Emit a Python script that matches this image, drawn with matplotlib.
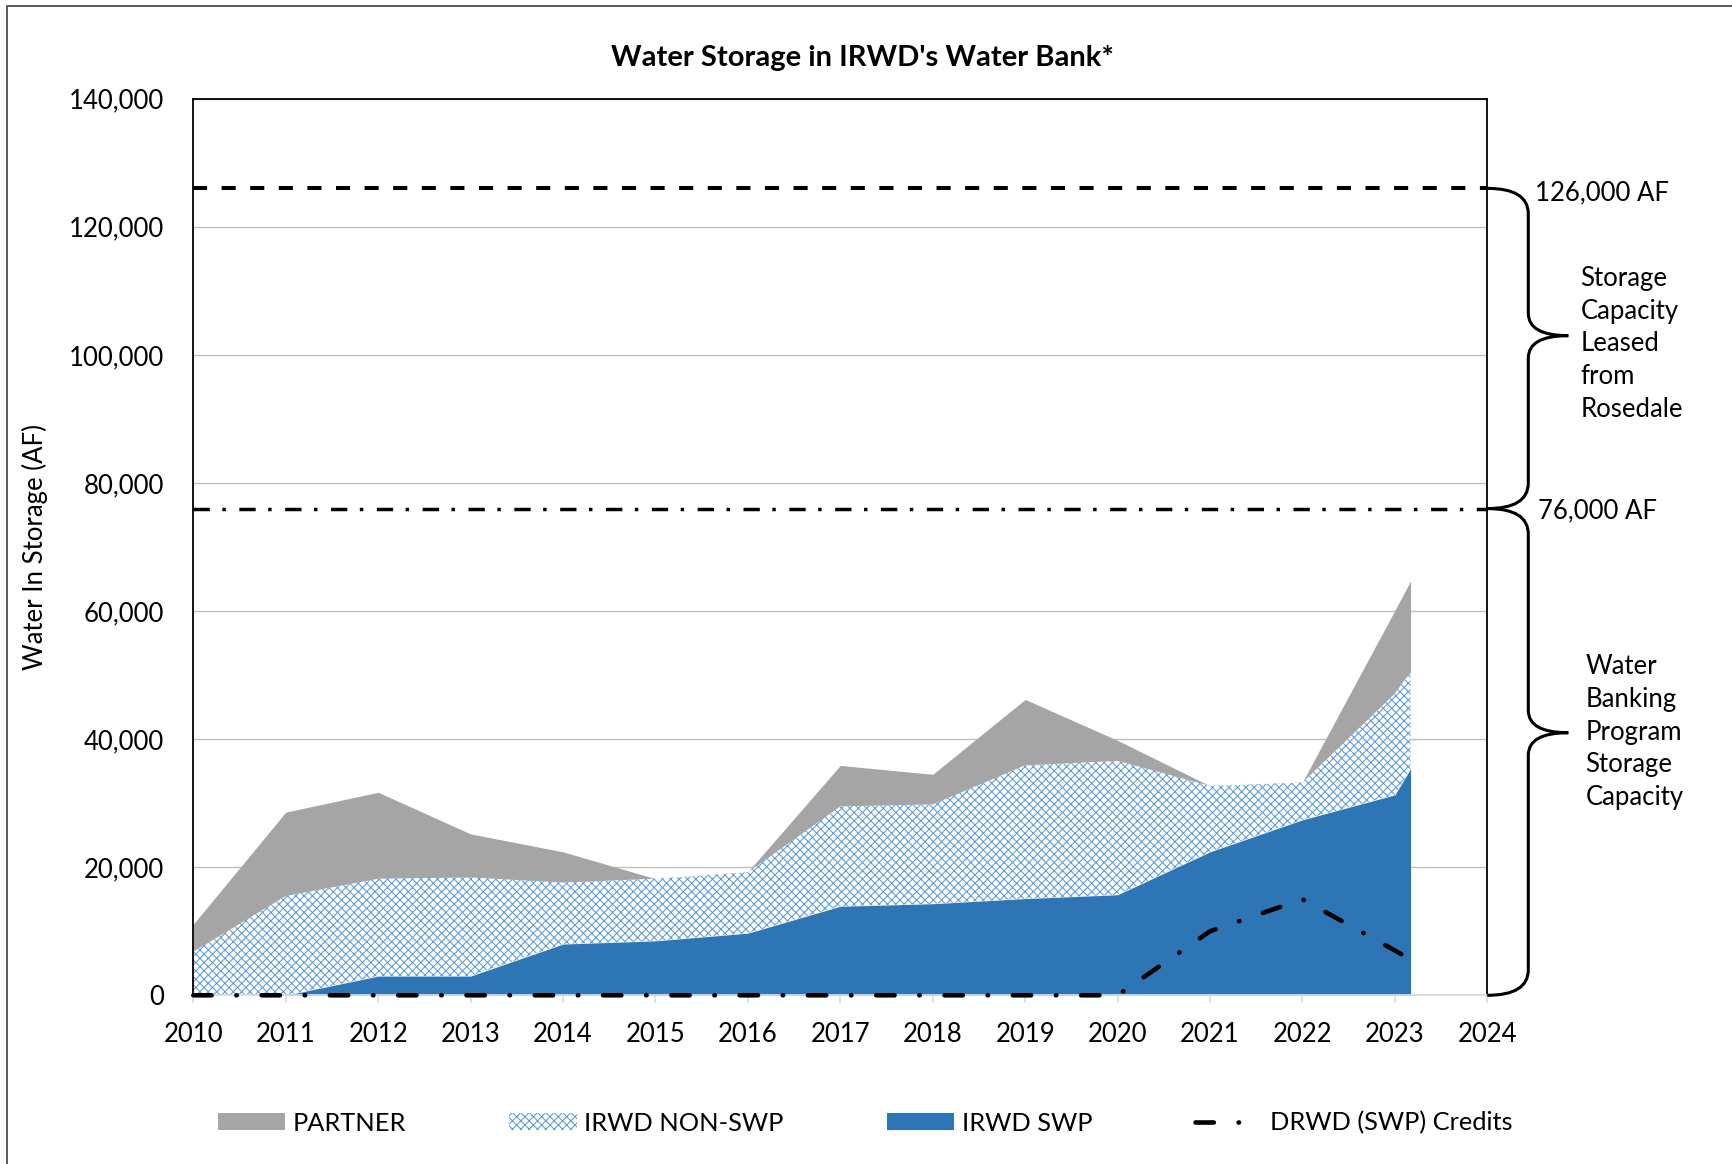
import matplotlib
matplotlib.use("Agg")
import matplotlib.pyplot as plt
import matplotlib.transforms as mtransforms
from matplotlib.path import Path
from matplotlib.patches import PathPatch
from matplotlib.lines import Line2D
from matplotlib.ticker import FuncFormatter
import numpy as np

plt.rcParams['font.family'] = ['Lato', 'DejaVu Sans']
plt.rcParams['hatch.linewidth'] = 0.75

# ---------------- data ----------------
dates = [2010, 2011, 2012, 2013, 2014, 2015, 2016, 2017, 2018, 2019, 2020,
         2021, 2022, 2023, 2023.17]
irwd_swp = [0, 0, 3000, 3000, 8000, 8500, 9700, 13900, 14300, 15100, 15700,
            22400, 27400, 31300, 35400]
irwd_non_swp = [6800, 15500, 15200, 15400, 9600, 9700, 9500, 15600, 15500,
                20800, 20900, 10300, 5800, 15800, 15100]
partner = [4300, 13100, 13500, 6800, 4800, 0, 100, 6400, 4700, 10300, 3200,
           0, 100, 13000, 14200]
drwd_credits = [0, 0, 0, 0, 0, 0, 0, 0, 0, 0, 0, 10000, 15000, 7000, 5600]

x_ticks = list(range(2010, 2025))
y_ticks = [0, 20000, 40000, 60000, 80000, 100000, 120000, 140000]
leased_capacity = 126000
program_capacity = 76000

title = "Water Storage in IRWD's Water Bank*"
ylabel = "Water In Storage (AF)"
legend_labels = ["PARTNER", "IRWD NON-SWP", "IRWD SWP", "DRWD (SWP) Credits"]
cap_labels = ["126,000 AF", "76,000 AF"]
brace_texts = ["Storage\nCapacity\nLeased\nfrom\nRosedale",
               "Water\nBanking\nProgram\nStorage\nCapacity"]

# ---------------- styles ----------------
c_swp = "#2E75B6"
c_hatch = "#5B9BD5"
c_partner = "#A5A5A5"
W, H = 1732, 1164

fig = plt.figure(figsize=(W / 100, H / 100), dpi=100)
ax = fig.add_axes([193.3 / W, 1 - 995.3 / H, (1487.3 - 193.3) / W, (995.3 - 98.7) / H])

x = np.array(dates, dtype=float)
swp = np.array(irwd_swp, dtype=float)
non = np.array(irwd_non_swp, dtype=float)
par = np.array(partner, dtype=float)

h_par = ax.fill_between(x, swp + non, swp + non + par, facecolor=c_partner,
                        edgecolor=c_partner, linewidth=0, zorder=2)
h_non = ax.fill_between(x, swp, swp + non, facecolor="white", edgecolor=c_hatch,
                        hatch="xxxx", linewidth=0, zorder=2)
h_swp = ax.fill_between(x, 0, swp, facecolor=c_swp, edgecolor=c_swp,
                        linewidth=0, zorder=3)
h_drwd, = ax.plot(x, drwd_credits, color="black", linewidth=3.3,
                  dashes=(4.0, 5.4, 0.1, 5.4), dash_capstyle="round",
                  solid_capstyle="round", zorder=5, clip_on=False)

ax.axhline(leased_capacity, color="black", linewidth=2.9,
           dashes=(3.5, 3.6), zorder=6, clip_on=False)
ax.axhline(program_capacity, color="black", linewidth=2.5,
           dashes=(4.7, 3.6, 1.0, 3.9), zorder=6, clip_on=False)

ax.set_xlim(2010, 2024)
ax.set_ylim(0, 140000)
ax.set_xticks(x_ticks)
ax.set_xticklabels([str(t) for t in x_ticks])
ax.set_yticks(y_ticks)
ax.yaxis.set_major_formatter(FuncFormatter(lambda v, p: f"{int(v):,}"))
ax.grid(axis="y", color="#BFBFBF", linewidth=1.0, zorder=0)
ax.set_axisbelow(True)
ax.tick_params(axis="x", length=6, width=1.2, color="#D9D9D9", labelsize=18.5,
               pad=13, direction="out")
ax.tick_params(axis="y", length=0, labelsize=18.5, pad=21)
for s in ["left", "top", "right"]:
    ax.spines[s].set_color("black")
    ax.spines[s].set_linewidth(1.3)
ax.spines["bottom"].set_color("#D9D9D9")
ax.spines["bottom"].set_linewidth(1.3)
for s in ax.spines.values():
    s.set_zorder(4)

# title and y label
fig.text(862 / W, 1 - 58 / H, title, ha="center", va="center",
         fontsize=21, fontweight="bold")
fig.text(35 / W, 1 - 547 / H, ylabel, ha="center", va="center",
         rotation=90, fontsize=18.5)

# braces
trans = mtransforms.blended_transform_factory(ax.transAxes, ax.transData)
xs = 1 + 41 / 1294
xt = 1 + 81 / 1294


def brace(ytop, ybot, ytip, r_end=4000, r_tip=3500):
    verts = [(1.0, ytop), (xs, ytop), (xs, ytop - r_end),
             (xs, ytip + r_tip),
             (xs, ytip), (xt, ytip),
             (xs, ytip), (xs, ytip - r_tip),
             (xs, ybot + r_end),
             (xs, ybot), (1.0, ybot)]
    codes = [Path.MOVETO, Path.CURVE3, Path.CURVE3,
             Path.LINETO,
             Path.CURVE3, Path.CURVE3,
             Path.CURVE3, Path.CURVE3,
             Path.LINETO,
             Path.CURVE3, Path.CURVE3]
    patch = PathPatch(Path(verts, codes), facecolor="none", edgecolor="black",
                      linewidth=2.2, transform=trans, clip_on=False, zorder=8)
    ax.add_patch(patch)


brace(leased_capacity, program_capacity, 103000)
brace(program_capacity, 0, 41000)

ax.text(1 + 48 / 1294, 125300, cap_labels[0], transform=trans, ha="left",
        va="center", fontsize=18.5)
ax.text(1 + 51 / 1294, 75700, cap_labels[1], transform=trans, ha="left",
        va="center", fontsize=18.5)
ax.text(1 + 93 / 1294, 101700, brace_texts[0], transform=trans, ha="left",
        va="center", fontsize=18.5, linespacing=1.38)
ax.text(1 + 98 / 1294, 41100, brace_texts[1], transform=trans, ha="left",
        va="center", fontsize=18.5, linespacing=1.38)

# legend
leg = fig.legend([h_par, h_non, h_swp, h_drwd], legend_labels, ncol=4,
                 loc="center left", bbox_to_anchor=(218 / W, 1 - 1123 / H),
                 frameon=False, fontsize=18.3, handlelength=2.65,
                 handleheight=0.62, handletextpad=0.3, columnspacing=4.05,
                 borderpad=0, borderaxespad=0)

# figure border (left and top)
fig.add_artist(Line2D([7.5 / W, 7.5 / W, 1.0], [0.0, 1 - 6 / H, 1 - 6 / H],
                      transform=fig.transFigure, color="#404040", linewidth=1.2))

fig.savefig("out.png", dpi=100)
